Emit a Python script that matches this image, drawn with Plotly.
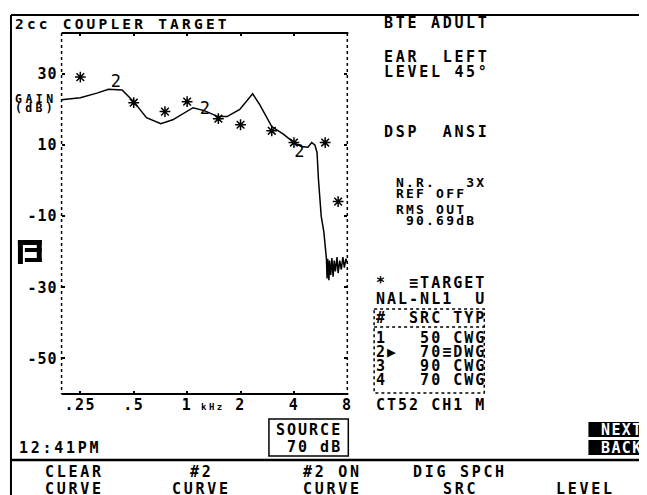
import numpy as np
import plotly.graph_objects as go

# the page body has an 8px margin, so the figure is drawn 8px in from the
# window corner; all positions below are window pixels
W, H = 647, 495
OFF = 8
FW, FH = W - OFF, H - OFF
FONT = "DejaVu Sans Mono"
WEIGHT = 600

# measured 2cc coupler response, curve #2 (kHz, dB)
curve_khz = [0.196, 0.25, 0.31, 0.36, 0.43, 0.5, 0.59, 0.71, 0.83, 1.0, 1.08, 1.26,
             1.49, 1.68, 1.98, 2.34, 2.57, 3.0, 3.5, 4.0, 4.4, 4.8, 5.04, 5.25, 5.4,
             5.5, 5.7, 5.9, 6.0, 6.1, 6.15, 6.2, 6.3, 6.35, 6.45, 6.55, 6.65, 6.75,
             6.85, 7.0, 7.1, 7.25, 7.4, 7.55, 7.7, 7.85, 8.0]
curve_db = [22.7, 23.3, 24.6, 25.7, 25.5, 22.2, 17.7, 16.0, 17.1, 19.4, 20.5, 19.6,
            18.0, 18.0, 20.0, 24.4, 21.3, 15.2, 13.0, 10.7, 9.6, 9.4, 10.7, 10.0, 7.9,
            0.3, -10.0, -14.5, -18.5, -22.0, -27.5, -22.0, -28.0, -22.5, -26.5, -21.8,
            -27.0, -22.5, -25.5, -21.5, -26.0, -22.5, -25.0, -21.5, -24.5, -22.0, -23.0]

# NAL-NL1 target points (*)
target_khz = [0.25, 0.5, 0.75, 1.0, 1.5, 2.0, 3.0, 4.0, 6.0, 7.1]
target_db = [29.1, 21.9, 19.4, 22.2, 17.4, 15.7, 14.0, 10.7, 10.7, -5.9]

# curve number labels sitting on the trace
label_khz = [0.397, 1.26, 4.3]
label_db = [27.5, 19.9, 7.9]

y_ticks = [30, 10, -10, -30, -50]
x_ticks = [0.25, 0.5, 1, 2, 4, 8]
x_ticktext = [".25", ".5", "1", "2", "4", "8"]

info_lines = ["BTE ADULT", "EAR  LEFT", "LEVEL 45\u00b0", "DSP  ANSI"]
meter_lines = ["N.R.   3X", "REF OFF", "RMS OUT", " 90.69dB"]
table_lines = ["*  \u2261TARGET", "NAL-NL1  U", "#  SRC TYP", "1   50 CWG",
               "2\u25b6  70\u2261DWG", "3   90 CWG", "4   70 CWG", "CT52 CH1 M"]
menu_top = ["CLEAR", "#2", "#2 ON", "DIG SPCH", ""]
menu_bottom = ["CURVE", "CURVE", "CURVE", "SRC", "LEVEL"]


def px(x):
    return (x - OFF) / FW


def py(y):
    return 1 - (y - OFF) / FH


def spaced(s, ls):
    # the analyser font is wide; letter-spacing gets the pitch right
    return '<span style="letter-spacing:%.1fpx">%s</span>' % (ls, s)


def text(x, y, s, size=15, ls=2.7, anchor="left", color="black"):
    return dict(x=px(x), y=py(y), xref="paper", yref="paper", text=spaced(s, ls),
                showarrow=False, xanchor=anchor, yanchor="middle",
                font=dict(family=FONT, size=size, color=color, weight=WEIGHT))


def line(x0, y0, x1, y1, width=2, dash="solid"):
    return dict(type="line", xref="paper", yref="paper", x0=px(x0), y0=py(y0),
                x1=px(x1), y1=py(y1), line=dict(color="black", width=width, dash=dash))


def box(x0, y0, x1, y1, fill=None, width=1.5, dash="solid"):
    return dict(type="rect", xref="paper", yref="paper", x0=px(x0), y0=py(y0),
                x1=px(x1), y1=py(y1), fillcolor=fill or "rgba(0,0,0,0)",
                line=dict(color="black", width=0 if fill else width, dash=dash))


fig = go.Figure()
fig.add_trace(go.Scatter(x=curve_khz, y=curve_db, mode="lines",
                         line=dict(color="black", width=1.5), hoverinfo="skip"))
fig.add_trace(go.Scatter(x=target_khz, y=target_db, mode="markers",
                         marker=dict(symbol="asterisk-open", size=9, color="black",
                                     line=dict(color="black", width=1.5)),
                         hoverinfo="skip"))
fig.add_trace(go.Scatter(x=label_khz, y=label_db, mode="text", text=["2"] * 3,
                         textfont=dict(family=FONT, size=17, color="black"),
                         hoverinfo="skip"))

shapes = [
    line(11, 15, 647, 15), line(11, 15, 11, 495),
    line(62, 33, 351, 33), line(62, 394, 351, 394),
    line(62, 33, 62, 394, 1.5, "dot"), line(350, 33, 350, 394, 1.5, "dot"),
    line(11, 460, 647, 460, 2.5),
    box(271, 419, 351, 456),
    box(377, 309, 488, 393, dash="dot"), line(377, 327, 488, 327, 1.5, "dot"),
    box(593, 422, 647, 437, fill="black"), box(593, 440, 647, 455, fill="black"),
    # channel glyph left of the plot
    box(18, 240, 23, 264, fill="black"), box(18, 240, 42, 245, fill="black"),
    box(37, 240, 42, 262, fill="black"), box(25, 248, 42, 252, fill="black"),
    box(25, 258, 42, 262, fill="black"),
]

ann = [text(13, 24, "2cc COUPLER TARGET", 14.5, 3.2),
       text(13, 99, "GAIN", 11.5, 3.5), text(13, 108, "(dB)", 11.5, 3.3),
       text(201, 407, "kHz", 9, 2.5),
       text(17, 448, "12:41PM"),
       text(311, 430, "SOURCE", 15, 2.0, "center"),
       text(311, 447, " 70 dB", 15, 2.0, "center"),
       text(604, 430, "NEXT", 15, 1.4, "left", "white"),
       text(604, 448, "BACK", 15, 1.4, "left", "white")]

for s, y in zip(info_lines, [23, 57, 72, 132]):
    ann.append(text(385, y, s))

for s, y in zip(meter_lines, [182, 193, 209, 220]):
    ann.append(text(397, y, s, 13, 2.2))

for s, y in zip(table_lines, [283, 299, 318, 338, 352, 366, 380, 405]):
    ann.append(text(377, y, s, 15, 2.0))

menu_x = [75, 203, 335, 464, 590]
for s1, s2, x in zip(menu_top, menu_bottom, menu_x):
    ann.append(text(x, 472, s1, anchor="center"))
    ann.append(text(x, 489, s2, anchor="center"))

fig.update_layout(
    width=FW, height=FH, margin=dict(l=0, r=0, t=0, b=0),
    paper_bgcolor="white", plot_bgcolor="white", showlegend=False,
    font=dict(family=FONT, size=15, color="black"),
    shapes=shapes, annotations=ann,
)
fig.update_xaxes(type="log", range=[np.log10(0.196), np.log10(8)],
                 domain=[px(62), px(350)], tickvals=x_ticks,
                 ticktext=[spaced(t, 1.5) for t in x_ticktext],
                 ticks="inside", ticklen=3, tickwidth=2, tickcolor="black",
                 mirror="ticks", showgrid=False, zeroline=False, showline=False,
                 tickfont=dict(family=FONT, size=15, weight=WEIGHT))
fig.update_yaxes(range=[-60, 41.5], domain=[py(394), py(33)], tickvals=y_ticks,
                 ticktext=[spaced(str(t), 1.0) for t in y_ticks],
                 ticks="inside", ticklen=3, tickwidth=1.5, tickcolor="black",
                 mirror="ticks", showgrid=False, zeroline=False, showline=False,
                 tickfont=dict(family=FONT, size=15, weight=WEIGHT),
                 ticklabelstandoff=3)

fig.write_html("out.html")
